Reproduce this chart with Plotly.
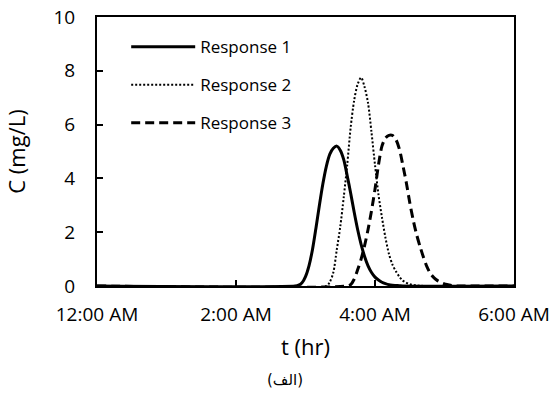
import plotly.graph_objects as go

# Time in hours after midnight, concentration in mg/L
t1 = [0.0, 2.85, 2.90, 2.95, 3.00, 3.05, 3.10, 3.15, 3.20, 3.25, 3.30, 3.35, 3.40, 3.45, 3.50, 3.55, 3.60,
      3.65, 3.70, 3.75, 3.80, 3.85, 3.90, 3.95, 4.00, 4.05, 4.10, 4.15, 4.20, 4.25, 4.30, 4.35, 4.40, 6.0]
c1 = [0.0, 0.0, 0.03, 0.12, 0.35, 0.75, 1.35, 2.15, 3.0, 3.8, 4.45, 4.9, 5.12, 5.2, 5.05, 4.7, 4.1,
      3.45, 2.75, 2.1, 1.55, 1.1, 0.75, 0.5, 0.33, 0.22, 0.14, 0.09, 0.05, 0.03, 0.02, 0.01, 0.0, 0.0]

t2 = [0.0, 3.30, 3.35, 3.40, 3.45, 3.50, 3.55, 3.60, 3.65, 3.70, 3.75, 3.80, 3.85, 3.90, 3.95, 4.00, 4.05,
      4.10, 4.15, 4.20, 4.25, 4.30, 4.35, 4.40, 4.45, 4.50, 4.55, 4.60, 4.65, 4.70, 6.0]
c2 = [0.0, 0.0, 0.15, 0.5, 1.35, 2.2, 3.3, 4.5, 5.9, 6.9, 7.5, 7.75, 7.4, 6.8, 5.7, 4.5, 3.4,
      2.55, 1.8, 1.2, 0.8, 0.55, 0.35, 0.2, 0.12, 0.07, 0.04, 0.02, 0.01, 0.0, 0.0]

t3 = [0.0, 3.60, 3.65, 3.70, 3.75, 3.80, 3.85, 3.90, 3.95, 4.00, 4.05, 4.10, 4.15, 4.20, 4.25, 4.30, 4.35,
      4.40, 4.45, 4.50, 4.55, 4.60, 4.65, 4.70, 4.75, 4.80, 4.85, 4.90, 4.95, 5.00, 5.05, 5.10, 5.15, 5.20, 6.0]
c3 = [0.0, 0.0, 0.05, 0.25, 0.6, 1.0, 1.5, 2.1, 2.8, 3.6, 4.5, 5.2, 5.5, 5.6, 5.6, 5.45, 5.1,
      4.5, 3.85, 3.1, 2.45, 1.9, 1.45, 1.05, 0.7, 0.45, 0.3, 0.2, 0.13, 0.08, 0.05, 0.02, 0.01, 0.0, 0.0]

series_names = ["Response 1", "Response 2", "Response 3"]
x_tickvals = [0, 2, 4, 6]
x_ticktext = ["12:00 AM", "2:00 AM", "4:00 AM", "6:00 AM"]
y_tickvals = [0, 2, 4, 6, 8, 10]
caption = "(الف)"

FONT = "'Open Sans', Lato, sans-serif"

fig = go.Figure()
styles = [
    dict(color="black", width=3, dash="solid"),
    dict(color="black", width=2, dash="2px,2px"),
    dict(color="black", width=3, dash="9px,5px"),
]
for i, (t, c) in enumerate([(t1, c1), (t2, c2), (t3, c3)]):
    fig.add_trace(go.Scatter(
        x=t, y=c, mode="lines", name=series_names[i],
        line=dict(shape="spline", smoothing=0.8, **styles[i]),
        legendgroup=f"g{i}",
    ))

fig.update_layout(
    width=552, height=394,
    margin=dict(l=97, r=38, t=17, b=108, autoexpand=False),
    paper_bgcolor="white", plot_bgcolor="white",
    font=dict(family=FONT, size=19, color="black"),
    showlegend=True,
    legend=dict(
        x=0.07, y=0.955, xanchor="left", yanchor="top",
        bgcolor="rgba(0,0,0,0)", font=dict(size=17),
        tracegroupgap=13, itemwidth=64,
    ),
    xaxis=dict(
        range=[0, 6], tickvals=x_tickvals, ticktext=x_ticktext,
        showgrid=False, zeroline=False, automargin=False,
        showline=True, linecolor="black", linewidth=2, mirror=True,
        ticks="inside", ticklen=6, tickcolor="black", tickwidth=1.5,
        ticklabelstandoff=10,
        title=dict(text="t (hr)", font=dict(size=22), standoff=14),
    ),
    yaxis=dict(
        range=[0, 10], tickvals=y_tickvals,
        showgrid=False, zeroline=False, automargin=False,
        showline=True, linecolor="black", linewidth=2, mirror=True,
        ticks="inside", ticklen=6, tickcolor="black", tickwidth=1.5,
        ticklabelstandoff=16,
        title=dict(text="C (mg/L)", font=dict(size=22), standoff=22),
    ),
    annotations=[dict(
        text=caption, xref="paper", yref="paper", x=0.45, y=-0.35,
        xanchor="center", yanchor="middle", showarrow=False,
        font=dict(size=15, family="'DejaVu Sans', sans-serif"),
    )],
)

fig.write_html("out.html", config={"displayModeBar": False},
               post_script="document.body.style.margin='0';")
